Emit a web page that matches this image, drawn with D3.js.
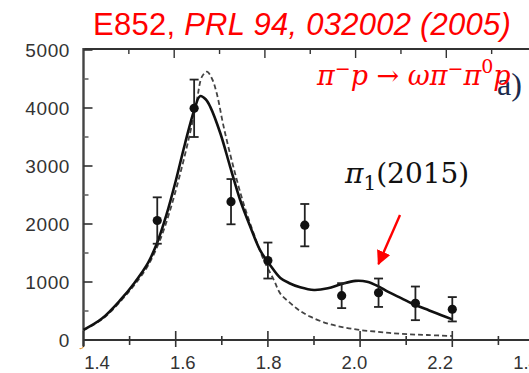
<!DOCTYPE html>
<html><head><meta charset="utf-8">
<script src="https://cdn.jsdelivr.net/npm/d3@7"></script>
<style>html,body{margin:0;padding:0;background:#fff;overflow:hidden}</style>
</head><body><svg id="c" width="529" height="373"></svg>
<script>
// ---- data ----
const yTickValues = [0, 1000, 2000, 3000, 4000, 5000];
const yTickLabels = ["0", "1000", "2000", "3000", "4000", "5000"];
const yMinorValues = [500, 1500, 2500, 3500, 4500];
const xMajorValues = [1.4, 1.6, 1.8, 2.0, 2.2, 2.4];
const xMinorValues = [1.5, 1.7, 1.9, 2.1, 2.3];
const xTickLabels = ["1.4", "1.6", "1.8", "2.0", "2.2", "1.4"];

const massGeV = [1.56, 1.64, 1.72, 1.80, 1.88, 1.96, 2.04, 2.12, 2.20];
const events  = [2060, 3995, 2385, 1370, 1980, 765, 815, 632, 530];
const errors  = [400, 495, 390, 310, 365, 215, 245, 290, 210];

const fitX = [1.40, 1.44, 1.48, 1.51, 1.54, 1.56, 1.58, 1.60, 1.62, 1.64, 1.653, 1.665, 1.675, 1.697, 1.718, 1.74, 1.762, 1.783, 1.805, 1.827, 1.848, 1.87, 1.90, 1.93, 1.96, 1.99, 2.015, 2.04, 2.06, 2.09, 2.12, 2.15, 2.175, 2.20];
const fitY = [175, 370, 690, 980, 1330, 1680, 2160, 2740, 3380, 3960, 4205, 4150, 4020, 3560, 2990, 2410, 1950, 1550, 1290, 1070, 975, 908, 862, 891, 966, 1020, 1006, 925, 833, 718, 603, 510, 431, 356];

const a2X = [1.40, 1.44, 1.48, 1.51, 1.54, 1.566, 1.588, 1.61, 1.631, 1.646, 1.657, 1.668, 1.679, 1.689, 1.704, 1.725, 1.747, 1.769, 1.791, 1.813, 1.827, 1.848, 1.87, 1.892, 1.928, 1.964, 2.00, 2.037, 2.073, 2.109, 2.145, 2.20];
const a2Y = [170, 355, 665, 945, 1285, 1724, 2241, 2874, 3564, 4138, 4540, 4626, 4500, 4253, 3678, 2988, 2357, 1840, 1379, 1034, 800, 640, 500, 402, 287, 219, 172, 143, 115, 98, 86, 69];

// ---- scales ----
const svg = d3.select("#c");
const x = d3.scaleLinear().domain([1.4, 2.4]).range([83.5, 544.5]);
const xLab = d3.scaleLinear().domain([1.4, 2.4]).range([97, 526]);
const y = d3.scaleLinear().domain([0, 5000]).range([340, 50]);
const axisColor = "#333";

// frame: top and left lines
svg.append("line").attr("x1", x(1.4)).attr("x2", 529).attr("y1", 49).attr("y2", 49)
  .attr("stroke", axisColor).attr("stroke-width", 2);
svg.append("line").attr("x1", x(1.4)).attr("x2", x(1.4)).attr("y1", 48).attr("y2", 346)
  .attr("stroke", "#444").attr("stroke-width", 2.4);
svg.append("path").attr("d", `M${x(1.4)},345 q0,4 -4,3.5`).attr("fill", "none")
  .attr("stroke", "#e8a040").attr("stroke-width", 1.2);
// bottom axis line
svg.append("line").attr("x1", x(1.4)).attr("x2", 529).attr("y1", y(0)).attr("y2", y(0))
  .attr("stroke", axisColor).attr("stroke-width", 2);

// bottom ticks (crossing)
svg.selectAll(".bmaj").data(xMajorValues).join("line")
  .attr("x1", d => x(d)).attr("x2", d => x(d)).attr("y1", y(0) - 9).attr("y2", y(0) + 7)
  .attr("stroke", axisColor).attr("stroke-width", 1.6);
svg.selectAll(".bmin").data(xMinorValues).join("line")
  .attr("x1", d => x(d)).attr("x2", d => x(d)).attr("y1", y(0) - 4).attr("y2", y(0) + 5)
  .attr("stroke", axisColor).attr("stroke-width", 1.6);
// top ticks (inward)
const xTop = d3.scaleLinear().domain([1.4, 2.4]).range([83.5, 537]);
svg.selectAll(".tmaj").data(xMajorValues.slice(1)).join("line")
  .attr("x1", d => xTop(d)).attr("x2", d => xTop(d)).attr("y1", 49).attr("y2", 58)
  .attr("stroke", axisColor).attr("stroke-width", 1.4);
svg.selectAll(".tmin").data(xMinorValues).join("line")
  .attr("x1", d => xTop(d)).attr("x2", d => xTop(d)).attr("y1", 49).attr("y2", 54)
  .attr("stroke", axisColor).attr("stroke-width", 1.4);
// left ticks (inward)
svg.selectAll(".lmaj").data(yTickValues).join("line")
  .attr("x1", x(1.4)).attr("x2", x(1.4) + 9).attr("y1", d => y(d)).attr("y2", d => y(d))
  .attr("stroke", axisColor).attr("stroke-width", 1.6);
svg.selectAll(".lmin").data(yMinorValues).join("line")
  .attr("x1", x(1.4)).attr("x2", x(1.4) + 5).attr("y1", d => y(d)).attr("y2", d => y(d))
  .attr("stroke", "#666").attr("stroke-width", 1.6);

// y labels
svg.selectAll(".ylab").data(yTickValues).join("text")
  .attr("x", 70).attr("y", d => y(d)).attr("dy", "0.36em")
  .attr("text-anchor", "end").attr("font-family", "Liberation Sans, Arial, sans-serif")
  .attr("font-size", 19).attr("fill", "#333").attr("letter-spacing", 0.6)
  .text((d, i) => yTickLabels[i]);
// x labels
svg.selectAll(".xlab").data(xMajorValues).join("text")
  .attr("x", d => xLab(d)).attr("y", 368.5)
  .attr("text-anchor", "middle").attr("font-family", "Liberation Sans, Arial, sans-serif")
  .attr("font-size", 18.5).attr("fill", "#333")
  .text((d, i) => xTickLabels[i]);

// curves
const line = (xs, ys) => d3.line().curve(d3.curveCatmullRom.alpha(0.5))
  .x((d, i) => x(xs[i])).y((d, i) => y(ys[i]))(xs);
svg.append("path").attr("d", line(a2X, a2Y)).attr("fill", "none")
  .attr("stroke", "#444").attr("stroke-width", 1.8).attr("stroke-dasharray", "5,3");
svg.append("path").attr("d", line(fitX, fitY)).attr("fill", "none")
  .attr("stroke", "#111").attr("stroke-width", 2.6);

// error bars
const g = svg.append("g");
massGeV.forEach((m, i) => {
  const cx = x(m), top = y(events[i] + errors[i]), bot = y(events[i] - errors[i]);
  g.append("line").attr("x1", cx).attr("x2", cx).attr("y1", top).attr("y2", bot)
    .attr("stroke", "#222").attr("stroke-width", 1.8);
  [top, bot].forEach(yy => g.append("line").attr("x1", cx - 4.5).attr("x2", cx + 4.5)
    .attr("y1", yy).attr("y2", yy).attr("stroke", "#222").attr("stroke-width", 1.8));
  g.append("circle").attr("cx", cx).attr("cy", y(events[i])).attr("r", 4.6).attr("fill", "#111");
});

// annotations
const title = svg.append("text").attr("x", 93).attr("y", 35)
  .attr("font-family", "Liberation Sans, Arial, sans-serif").attr("font-size", 31)
  .attr("letter-spacing", 0.25).attr("fill", "#ff0000");
title.append("tspan").text("E852, ");
title.append("tspan").attr("font-style", "italic").text("PRL 94, 032002 (2005)");

svg.append("text").attr("x", 497).attr("y", 95)
  .attr("font-family", "Liberation Serif, Times New Roman, serif").attr("font-size", 32)
  .attr("fill", "#1c2a4c").text("a)");

const rx = svg.append("text").attr("x", 317).attr("y", 85)
  .attr("font-family", "DejaVu Serif, serif").attr("font-style", "italic")
  .attr("font-size", 27).attr("fill", "#ff0000");
rx.append("tspan").text("π");
rx.append("tspan").attr("dy", -10).attr("font-size", 19).attr("font-style", "normal").text("−");
rx.append("tspan").attr("dy", 10).text("p ");
rx.append("tspan").attr("font-style", "normal").text("→ ");
rx.append("tspan").text("ωπ");
rx.append("tspan").attr("dy", -10).attr("font-size", 19).attr("font-style", "normal").text("−");
rx.append("tspan").attr("dy", 10).text("π");
rx.append("tspan").attr("dy", -12).attr("font-size", 19).attr("font-style", "normal").text("0");
rx.append("tspan").attr("dy", 12).text("p");

const pi1 = svg.append("text").attr("x", 345).attr("y", 183)
  .attr("font-family", "DejaVu Serif, serif").attr("font-size", 28).attr("fill", "#111");
pi1.append("tspan").attr("font-style", "italic").text("π");
pi1.append("tspan").attr("dy", 7).attr("font-size", 20).text("1");
pi1.append("tspan").attr("dy", -7).text("(2015)");

// red arrow
svg.append("defs").append("marker").attr("id", "ah").attr("viewBox", "0 0 10 10")
  .attr("refX", 9).attr("refY", 5).attr("markerWidth", 6).attr("markerHeight", 6)
  .attr("markerUnits", "strokeWidth").attr("orient", "auto")
  .append("path").attr("d", "M0,0 L10,5 L0,10 z").attr("fill", "#ff0000");
svg.append("line").attr("x1", 400).attr("y1", 215).attr("x2", 378.5).attr("y2", 264)
  .attr("stroke", "#ff0000").attr("stroke-width", 2.4).attr("marker-end", "url(#ah)");
</script></body></html>
